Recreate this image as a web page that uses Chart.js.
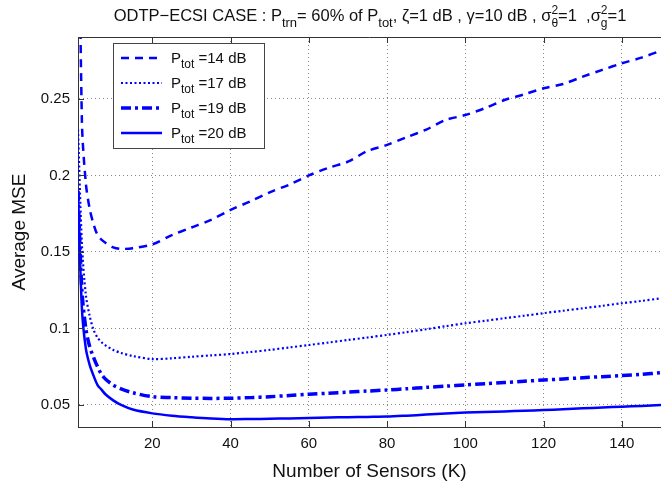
<!DOCTYPE html>
<html>
<head>
<meta charset="utf-8">
<script src="https://cdn.jsdelivr.net/npm/chart.js@4"></script>
<style>
  body { margin: 0; background: #fff; }
  #wrap { width: 661px; height: 487px; }
</style>
</head>
<body>
<div id="wrap"><canvas id="mseChart" width="661" height="487"></canvas></div>
<script>
// number of sensors K
const kValues = [1, 2, 3, 4, 5, 6, 7, 8, 10, 12, 15, 20, 25, 30, 35, 40, 45, 50, 55, 60, 65, 70, 75,
  80, 85, 90, 95, 100, 105, 110, 115, 120, 125, 130, 135, 140, 145, 150];

// average MSE for each total power
const mse14 = [0.45, 0.235, 0.195, 0.178, 0.168, 0.161, 0.158, 0.156, 0.153, 0.152, 0.1525, 0.155, 0.161,
  0.166, 0.171, 0.1775, 0.183, 0.189, 0.194, 0.2, 0.205, 0.209, 0.216, 0.22, 0.225, 0.23, 0.2363, 0.2395,
  0.244, 0.2493, 0.253, 0.257, 0.2598, 0.2646, 0.269, 0.2733, 0.277, 0.2816];
const mse17 = [0.23, 0.155, 0.122, 0.108, 0.099, 0.094, 0.091, 0.089, 0.086, 0.084, 0.082, 0.080, 0.0805,
  0.0815, 0.0824, 0.0833, 0.0846, 0.086, 0.0876, 0.0892, 0.0908, 0.0925, 0.0941, 0.0958, 0.0976, 0.0995,
  0.1015, 0.1034, 0.105, 0.1067, 0.1083, 0.110, 0.1116, 0.1132, 0.1148, 0.1165, 0.118, 0.1197];
const mse19 = [0.19, 0.125, 0.100, 0.088, 0.081, 0.075, 0.070, 0.067, 0.063, 0.0605, 0.058, 0.0554, 0.0548,
  0.0544, 0.0543, 0.0544, 0.0548, 0.0554, 0.0562, 0.057, 0.0577, 0.0584, 0.0591, 0.0598, 0.0606, 0.0615,
  0.0623, 0.0631, 0.0639, 0.0647, 0.0655, 0.0663, 0.067, 0.0678, 0.0685, 0.0692, 0.070, 0.0711];
const mse20 = [0.19, 0.113, 0.087, 0.076, 0.069, 0.063, 0.060, 0.057, 0.053, 0.050, 0.047, 0.0445, 0.043,
  0.042, 0.0412, 0.0407, 0.0408, 0.041, 0.0412, 0.0415, 0.0418, 0.042, 0.0422, 0.0424, 0.043, 0.0437,
  0.0444, 0.045, 0.0454, 0.0458, 0.0462, 0.0467, 0.0472, 0.0478, 0.0483, 0.0489, 0.0494, 0.05];

const powerLabels = ["14", "17", "19", "20"];
const xTicks = [20, 40, 60, 80, 100, 120, 140];
const yTicks = [0.05, 0.1, 0.15, 0.2, 0.25];

const BLUE = "#0000ff";
const FONT = "'Liberation Sans', Arial, Helvetica, sans-serif";

const lineStyles = [
  { dash: [8, 6], width: 2.5 },
  { dash: [2, 2.5], width: 2.2 },
  { dash: [10, 4, 3, 4], width: 3.5 },
  { dash: [], width: 2.5 }
];

const seriesList = [mse14, mse17, mse19, mse20];

const datasets = seriesList.map((vals, i) => ({
  label: "P_tot =" + powerLabels[i] + " dB",
  data: kValues.map((k, j) => ({ x: k, y: vals[j] })),
  borderColor: BLUE,
  borderWidth: lineStyles[i].width,
  borderDash: lineStyles[i].dash,
  pointRadius: 0,
  tension: 0.3,
  fill: false
}));

// draw text with sub/superscript pieces: [text, 'n'|'sub'|'subsup', sup]
function drawRich(ctx, parts, x, y, size) {
  let cx = x;
  parts.forEach(p => {
    const txt = p[0], mode = p[1];
    if (mode === "n") {
      ctx.font = size + "px " + FONT;
      ctx.fillText(txt, cx, y);
      cx += ctx.measureText(txt).width;
    } else if (mode === "sub") {
      ctx.font = Math.round(size * 0.8) + "px " + FONT;
      ctx.fillText(txt, cx, y + size * 0.35);
      cx += ctx.measureText(txt).width;
    } else if (mode === "subsup") {
      ctx.font = Math.round(size * 0.75) + "px " + FONT;
      ctx.fillText(p[2], cx, y - size * 0.45);
      ctx.fillText(txt, cx, y + size * 0.35);
      cx += Math.max(ctx.measureText(txt).width, ctx.measureText(p[2]).width);
    }
  });
  return cx - x;
}

function measureRich(ctx, parts, size) {
  let w = 0;
  parts.forEach(p => {
    if (p[1] === "n") { ctx.font = size + "px " + FONT; w += ctx.measureText(p[0]).width; }
    else if (p[1] === "sub") { ctx.font = Math.round(size * 0.8) + "px " + FONT; w += ctx.measureText(p[0]).width; }
    else { ctx.font = Math.round(size * 0.75) + "px " + FONT; w += Math.max(ctx.measureText(p[0]).width, ctx.measureText(p[2]).width); }
  });
  return w;
}

const frameAndText = {
  id: "frameAndText",
  afterDraw(chart) {
    const ctx = chart.ctx;
    const a = chart.chartArea;
    const xs = chart.scales.x, ys = chart.scales.y;
    ctx.save();

    // box + inward ticks
    ctx.strokeStyle = "#333";
    ctx.lineWidth = 1;
    ctx.beginPath();
    ctx.moveTo(a.left, a.top + 0.5); ctx.lineTo(a.right, a.top + 0.5);
    xTicks.forEach(t => {
      const px = Math.round(xs.getPixelForValue(t)) + 0.5;
      ctx.moveTo(px, a.bottom); ctx.lineTo(px, a.bottom - 6);
      ctx.moveTo(px, a.top); ctx.lineTo(px, a.top + 6);
    });
    yTicks.forEach(t => {
      const py = Math.round(ys.getPixelForValue(t)) + 0.5;
      ctx.moveTo(a.left, py); ctx.lineTo(a.left + 6, py);
    });
    ctx.stroke();

    // title
    ctx.fillStyle = "#111";
    ctx.textBaseline = "alphabetic";
    ctx.textAlign = "left";
    const tSize = 16.5;
    const title = [
      ["ODTP\u2212ECSI CASE : P", "n"], ["trn", "sub"], ["= 60% of P", "n"], ["tot", "sub"],
      [", \u03b6=1 dB , \u03b3=10 dB , \u03c3", "n"], ["\u03b8", "subsup", "2"], ["=1  ,\u03c3", "n"],
      ["g", "subsup", "2"], ["=1", "n"]
    ];
    const tw = measureRich(ctx, title, tSize);
    drawRich(ctx, title, 370 - tw / 2, 21, tSize);

    // legend
    const lx = 113, ly = 43, lw = 151, lh = 105;
    ctx.fillStyle = "#fff";
    ctx.fillRect(lx, ly, lw, lh);
    ctx.strokeStyle = "#444";
    ctx.lineWidth = 1;
    ctx.strokeRect(lx + 0.5, ly + 0.5, lw, lh);
    const rowY = [58, 83, 108, 133];
    powerLabels.forEach((p, i) => {
      ctx.strokeStyle = BLUE;
      ctx.lineWidth = lineStyles[i].width;
      ctx.setLineDash(lineStyles[i].dash);
      ctx.beginPath();
      ctx.moveTo(121, rowY[i]); ctx.lineTo(162, rowY[i]);
      ctx.stroke();
      ctx.setLineDash([]);
      ctx.fillStyle = "#111";
      drawRich(ctx, [["P", "n"], ["tot", "sub"], [" =" + p + " dB", "n"]], 171, rowY[i] + 5, 15);
    });
    ctx.restore();
  }
};

new Chart(document.getElementById("mseChart"), {
  type: "line",
  data: { datasets: datasets },
  options: {
    responsive: false,
    animation: false,
    events: [],
    layout: { padding: { top: 37, right: 0, left: 0, bottom: 0 } },
    plugins: {
      legend: { display: false },
      tooltip: { enabled: false },
      title: { display: false }
    },
    scales: {
      x: {
        type: "linear",
        min: 1,
        max: 150,
        afterBuildTicks: s => { s.ticks = xTicks.map(v => ({ value: v })); },
        afterFit: s => { s.height = 60; },
        grid: { color: "#8a8a8a", drawTicks: false, lineWidth: 1 },
        border: { display: true, color: "#333", width: 1, dash: [1, 3] },
        ticks: { color: "#111", font: { family: FONT, size: 15 }, padding: 8, maxRotation: 0 },
        title: {
          display: true, text: "Number of Sensors (K)", color: "#111",
          font: { family: FONT, size: 19 }, padding: { top: 0, bottom: 4 }
        }
      },
      y: {
        type: "linear",
        min: 0.0356,
        max: 0.2905,
        afterBuildTicks: s => { s.ticks = yTicks.map(v => ({ value: v })); },
        afterFit: s => { s.width = 78; },
        grid: { color: "#8a8a8a", drawTicks: false, lineWidth: 1 },
        border: { display: true, color: "#333", width: 1, dash: [1, 3] },
        ticks: {
          color: "#111", font: { family: FONT, size: 15 }, padding: 8,
          callback: v => String(Math.round(v * 100) / 100)
        },
        title: {
          display: true, text: "Average MSE", color: "#111",
          font: { family: FONT, size: 19 }, padding: { top: 8, bottom: 0 }
        }
      }
    }
  },
  plugins: [frameAndText]
});
</script>
</body>
</html>
